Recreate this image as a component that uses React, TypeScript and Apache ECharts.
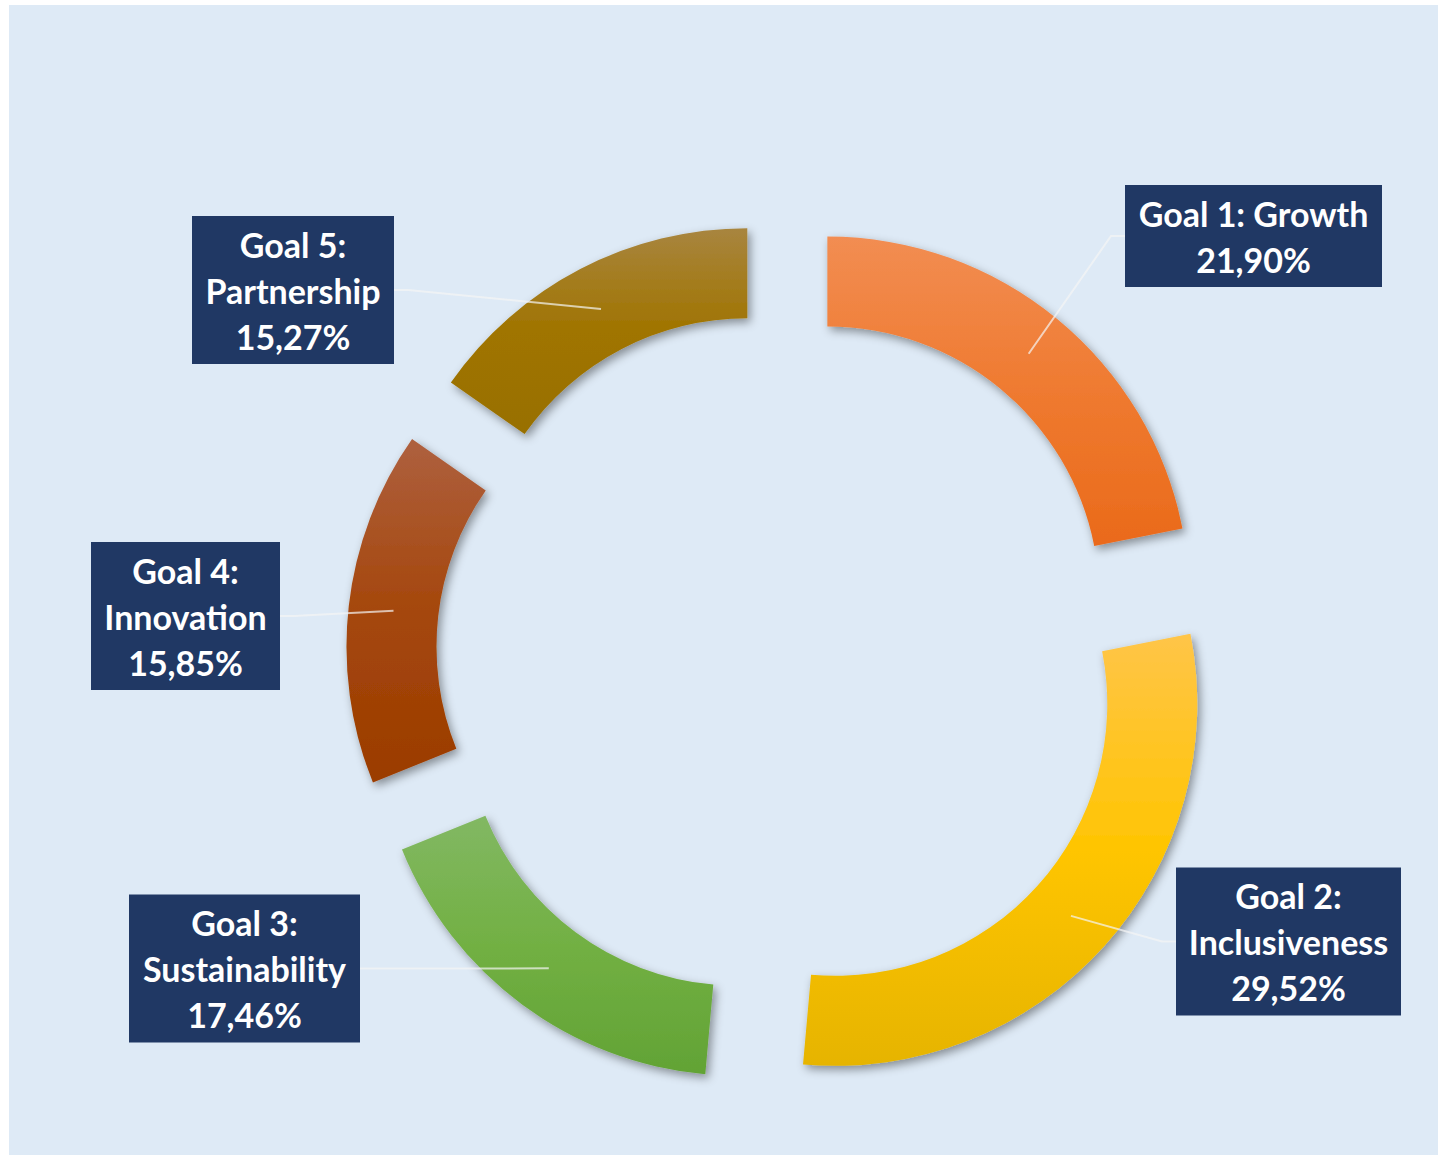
import React, { useEffect, useRef } from 'react';
import * as echarts from 'echarts';

const CATEGORIES = [
  'Goal 1: Growth',
  'Goal 2: Inclusiveness',
  'Goal 3: Sustainability',
  'Goal 4: Innovation',
  'Goal 5: Partnership',
];
const SHARES = [21.9, 29.52, 17.46, 15.85, 15.27];

const GRADIENTS: [string, string, string][] = [
  ['#F28D52', '#EF7A30', '#EA6A1A'],
  ['#FFC548', '#FFC502', '#E6B400'],
  ['#82B863', '#72B043', '#62A335'],
  ['#AE603F', '#A5470C', '#9B3C00'],
  ['#A8853F', '#A07400', '#987000'],
];

const CENTER = [772, 650];
const R_IN = 272;
const R_OUT = 362;
const OFFSET = 73;

// label box layout (chart coordinates): centre, width, which edge the guide line meets
const BOXES = [
  { cx: 1244.5, cy: 231, w: 257, side: 'left' },
  { cx: 1279.5, cy: 936.5, w: 225, side: 'left' },
  { cx: 235.5, cy: 963.5, w: 231, side: 'right' },
  { cx: 176.5, cy: 611, w: 189, side: 'right' },
  { cx: 284, cy: 285, w: 202, side: 'right' },
];

function midAngle(i: number) {
  const total = SHARES.reduce((a, b) => a + b, 0);
  let before = 0;
  for (let k = 0; k < i; k++) before += SHARES[k];
  return ((before + SHARES[i] / 2) / total) * Math.PI * 2;
}

function fmt(v: number) {
  return v.toFixed(2).replace('.', ',') + '%';
}

export default function App() {
  const ref = useRef<HTMLDivElement>(null);
  useEffect(() => {
    if (!ref.current) return;
    const chart = echarts.init(ref.current, null, { renderer: 'svg' });
    const ringData = CATEGORIES.map((name, i) => ({
      name,
      value: SHARES[i],
      selected: true,
      itemStyle: {
        color: new echarts.graphic.LinearGradient(0, 0, 0, 1, [
          { offset: 0, color: GRADIENTS[i][0] },
          { offset: 0.5, color: GRADIENTS[i][1] },
          { offset: 1, color: GRADIENTS[i][2] },
        ]),
      },
    }));
    const labelData = CATEGORIES.map((name, i) => ({
      name,
      value: SHARES[i],
      label: { width: BOXES[i].w },
    }));
    chart.setOption({
      animation: false,
      backgroundColor: '#DEEAF6',
      series: [
        {
          type: 'pie',
          z: 2,
          center: CENTER,
          radius: [R_IN, R_OUT],
          startAngle: 90,
          clockwise: true,
          selectedMode: 'multiple',
          selectedOffset: OFFSET,
          silent: true,
          emphasis: { disabled: true },
          itemStyle: {
            shadowBlur: 10,
            shadowColor: 'rgba(0,0,0,0.4)',
            shadowOffsetX: 3,
            shadowOffsetY: 4,
          },
          label: { show: false },
          labelLine: { show: false },
          data: ringData,
        },
        {
          type: 'pie',
          z: 5,
          center: CENTER,
          radius: [R_IN, R_OUT],
          startAngle: 90,
          clockwise: true,
          silent: true,
          avoidLabelOverlap: false,
          emphasis: { disabled: true },
          itemStyle: { color: 'rgba(0,0,0,0)' },
          label: {
            show: true,
            position: 'outside',
            color: '#FFFFFF',
            fontFamily: 'Lato',
            fontWeight: 'bold',
            fontSize: 34,
            lineHeight: 46,
            align: 'center',
            backgroundColor: '#203864',
            padding: [5, 0],
            formatter: (p: any) => {
              const name = p.dataIndex === 0 ? p.name : p.name.replace(': ', ':\n');
              return name + '\n' + fmt(p.value);
            },
          },
          labelLine: {
            show: true,
            length: 10,
            length2: 10,
            lineStyle: { color: 'rgba(245,245,245,0.7)', width: 2 },
          },
          labelLayout: (params: any) => {
            const i = params.dataIndex;
            const b = BOXES[i];
            const a = midAngle(i);
            const rr = OFFSET + (R_IN + R_OUT) / 2;
            const sx = CENTER[0] + rr * Math.sin(a);
            const sy = CENTER[1] - rr * Math.cos(a);
            const edge = b.side === 'left' ? b.cx - b.w / 2 : b.cx + b.w / 2;
            const elbow = b.side === 'left' ? edge - 14 : edge + 14;
            return {
              x: b.cx,
              y: b.cy,
              align: 'center',
              verticalAlign: 'middle',
              labelLinePoints: [
                [sx, sy],
                [elbow, b.cy],
                [edge, b.cy],
              ],
            };
          },
          data: labelData,
        },
      ],
    });
    return () => chart.dispose();
  }, []);
  return (
    <div
      ref={ref}
      style={{ position: 'absolute', left: 9, top: 5, width: 1429, height: 1150 }}
    />
  );
}
